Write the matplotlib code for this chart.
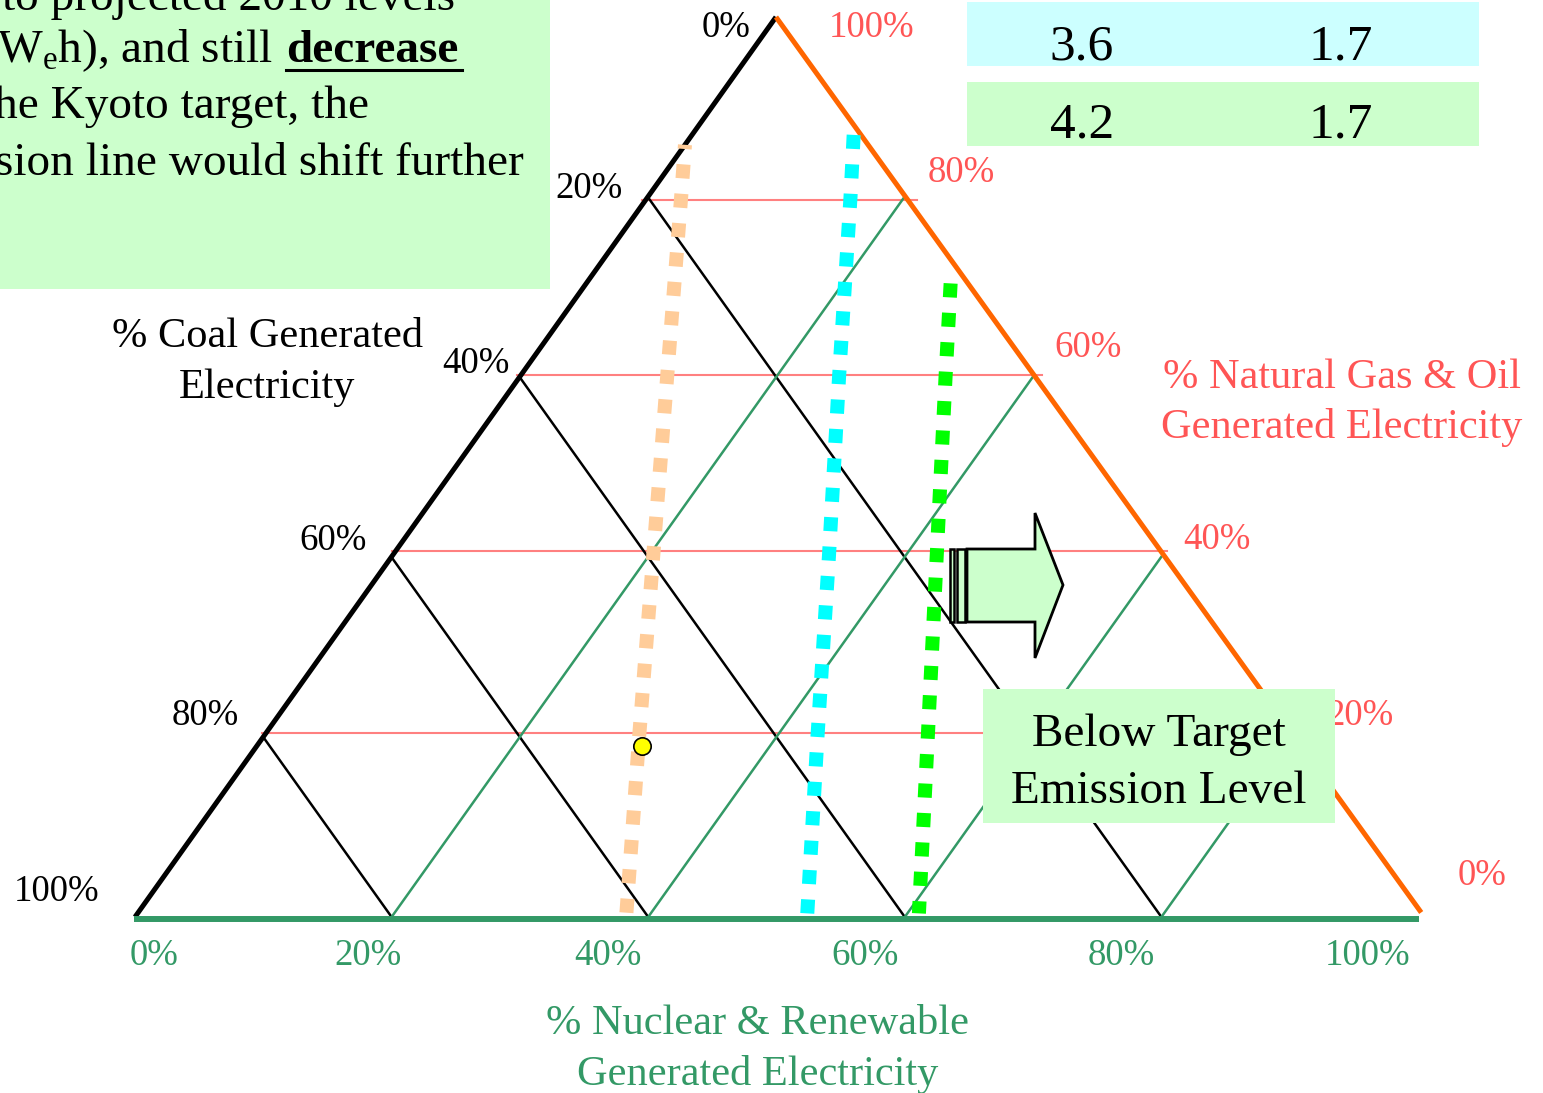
import matplotlib
matplotlib.use('Agg')
import matplotlib.pyplot as plt
import matplotlib.patches as patches
from matplotlib.transforms import Affine2D
import numpy as np

plt.rcParams['font.family'] = ['Liberation Serif', 'DejaVu Serif']
plt.rcParams['mathtext.fontset'] = 'custom'
plt.rcParams['mathtext.rm'] = 'Liberation Serif'

W, H = 1543, 1093

# ternary grid levels (%)
grid_levels = [20, 40, 60, 80]
# horizontal (gas & oil) guide lines, as drawn on the slide
gas_line_levels = [20.4, 40.7, 60.2, 79.7]
coal_ticks = ['0%', '20%', '40%', '60%', '80%', '100%']
gas_ticks = ['100%', '80%', '60%', '40%', '20%', '0%']
nuc_ticks = ['0%', '20%', '40%', '60%', '80%', '100%']

# emission lines: gas & oil share (%) and nuclear & renewable share (%) along each line
orange_gas = [85.8, 80, 60, 40, 20, 0.4]
orange_nuc = [0.0, 2.6, 11.5, 20.4, 29.3, 38.1]
cyan_gas = [86.9, 80, 60, 40, 20, 0.4]
cyan_nuc = [12.6, 15.8, 24.9, 34.1, 43.2, 52.2]
green_gas = [70.4, 60, 40, 20, 0.4]
green_nuc = [28.4, 33.2, 42.5, 51.8, 60.9]

# present generation mix (yellow dot)
now_nuc = 30
now_gas = 19

table_cyan = ['3.6', '1.7']
table_green = ['4.2', '1.7']

GREEN = '#339966'
PINK = '#FF5555'


def tern(nuc, gas):
    nuc = np.asarray(nuc, dtype=float) / 100
    gas = np.asarray(gas, dtype=float) / 100
    return nuc + 0.4996 * gas, gas


fig = plt.figure(figsize=(W / 100, H / 100), dpi=100)
ax = fig.add_axes([0, 0, 1, 1])
ax.set_xlim(-135 / 1283, 1408 / 1283)
ax.set_ylim(-176 / 900, 917 / 900)
ax.axis('off')

# pixel coordinates (from the top-left corner) for the slide furniture
pix = Affine2D().scale(1 / W, -1 / H).translate(0, 1) + fig.transFigure

# grid
for v in gas_line_levels:
    x, y = tern([-0.3, 100 - v + 0.8], [v, v])
    ax.plot(x, y, color='#FF8080', lw=1.5, zorder=1)
for v in grid_levels:
    x, y = tern([0, 100 - v], [100 - v, 0])
    ax.plot(x, y, color='black', lw=1.8, zorder=1.2)
    x, y = tern([v, v], [0, 100 - v])
    ax.plot(x, y, color=GREEN, lw=1.8, zorder=1.3)

# triangle edges
x, y = tern([0, 0], [0, 100])
ax.plot(x, y, color='black', lw=3.6, zorder=2, solid_capstyle='butt')
x, y = tern([0, 100], [100, 0.5])
ax.plot(x, y, color='#FF6600', lw=3.6, zorder=2, solid_capstyle='butt')
x, y = tern([0, 100.2], [-0.2, -0.2])
ax.plot(x, y, color=GREEN, lw=4.3, zorder=2, solid_capstyle='butt')

# emission lines
x, y = tern(orange_nuc, orange_gas)
ax.plot(x, y, color='#FFCC99', lw=10.1, linestyle=(0.7, (1, 1.1)), zorder=3)
x, y = tern(cyan_nuc, cyan_gas)
ax.plot(x, y, color='#00FFFF', lw=10.1, linestyle=(0, (1, 1.1)), zorder=3)
x, y = tern(green_nuc, green_gas)
ax.plot(x, y, color='#00FF00', lw=10.1, linestyle=(0, (1, 1.1)), zorder=3)

x, y = tern([now_nuc], [now_gas])
ax.plot(x, y, 'o', ms=12.5, mfc='#FFFF00', mec='black', mew=1.2, zorder=4)

# tick labels
coal_pos = [(726, 37), (589, 198), (476, 373), (333, 550), (205, 725), (57, 901)]
gas_pos = [(872, 37), (961, 182), (1088, 357), (1217, 549), (1360, 725), (1482, 885)]
nuc_pos = [(154, 965), (368, 965), (608, 965), (865, 965), (1121, 965), (1368, 965)]
for lab, (px, py) in zip(coal_ticks, coal_pos):
    fig.text(px, py, lab, transform=pix, ha='center', va='baseline', fontsize=26.5, color='black')
for lab, (px, py) in zip(gas_ticks, gas_pos):
    fig.text(px, py, lab, transform=pix, ha='center', va='baseline', fontsize=26.5, color=PINK)
for lab, (px, py) in zip(nuc_ticks, nuc_pos):
    fig.text(px, py, lab, transform=pix, ha='center', va='baseline', fontsize=26.5, color=GREEN)

# axis titles
fig.text(267, 347, '% Coal Generated', transform=pix, ha='center', va='baseline', fontsize=30.5)
fig.text(267, 398, 'Electricity', transform=pix, ha='center', va='baseline', fontsize=30.5)
fig.text(1342, 388, '% Natural Gas & Oil', transform=pix, ha='center', va='baseline',
         fontsize=30.5, color=PINK)
fig.text(1342, 438, 'Generated Electricity', transform=pix, ha='center', va='baseline',
         fontsize=30.5, color=PINK)
fig.text(758, 1034, '% Nuclear & Renewable', transform=pix, ha='center', va='baseline',
         fontsize=30.5, color=GREEN)
fig.text(758, 1085, 'Generated Electricity', transform=pix, ha='center', va='baseline',
         fontsize=30.5, color=GREEN)

# striped arrow
arrow = patches.Polygon([(967, 549), (1035, 549), (1035, 513), (1063, 585), (1035, 658),
                         (1035, 622), (967, 622)], closed=True, transform=pix,
                        facecolor='#CCFFCC', edgecolor='black', lw=2, zorder=2)
fig.add_artist(arrow)
for x0, x1 in [(950, 954), (957, 965)]:
    fig.add_artist(patches.Rectangle((x0, 549), x1 - x0, 73, transform=pix,
                                     facecolor='#CCFFCC', edgecolor='black', lw=1.8, zorder=2))

# below target box
fig.add_artist(patches.Rectangle((983, 689), 352, 134, transform=pix,
                                 facecolor='#CCFFCC', edgecolor='none', zorder=4))
fig.text(1159, 746, 'Below Target', transform=pix, ha='center', va='baseline', fontsize=34, zorder=5)
fig.text(1159, 803, 'Emission Level', transform=pix, ha='center', va='baseline', fontsize=34, zorder=5)

# table in the corner
fig.add_artist(patches.Rectangle((967, 2), 512, 64, transform=pix,
                                 facecolor='#CCFFFF', edgecolor='none', zorder=2))
fig.add_artist(patches.Rectangle((967, 82), 512, 64, transform=pix,
                                 facecolor='#CCFFCC', edgecolor='none', zorder=2))
for val, px in zip(table_cyan, [1082, 1341]):
    fig.text(px, 59, val, transform=pix, ha='center', va='baseline', fontsize=37, zorder=5)
for val, px in zip(table_green, [1082, 1341]):
    fig.text(px, 138, val, transform=pix, ha='center', va='baseline', fontsize=37, zorder=5)

# text box, top left (cut off by the slide edge)
fig.add_artist(patches.Rectangle((0, -5), 550, 294, transform=pix,
                                 facecolor='#CCFFCC', edgecolor='none', zorder=2))
fig.text(2, 10, 'to projected 2010 levels', transform=pix, va='baseline', fontsize=34, zorder=5)
fig.text(-3, 62, r'W$_{\mathrm{e}}$h), and still', transform=pix, va='baseline', fontsize=34, zorder=5)
fig.text(286, 62, 'decrease', transform=pix, va='baseline', fontsize=34, fontweight='bold', zorder=5)
fig.add_artist(plt.Line2D([286, 462], [69.5, 69.5], transform=pix, color='black', lw=2.2, zorder=5))
fig.text(-6, 118, 'he Kyoto target, the', transform=pix, va='baseline', fontsize=34, zorder=5)
fig.text(-5, 175, 'sion line would shift further', transform=pix, va='baseline', fontsize=34, zorder=5)

fig.savefig('out.png', dpi=100)
